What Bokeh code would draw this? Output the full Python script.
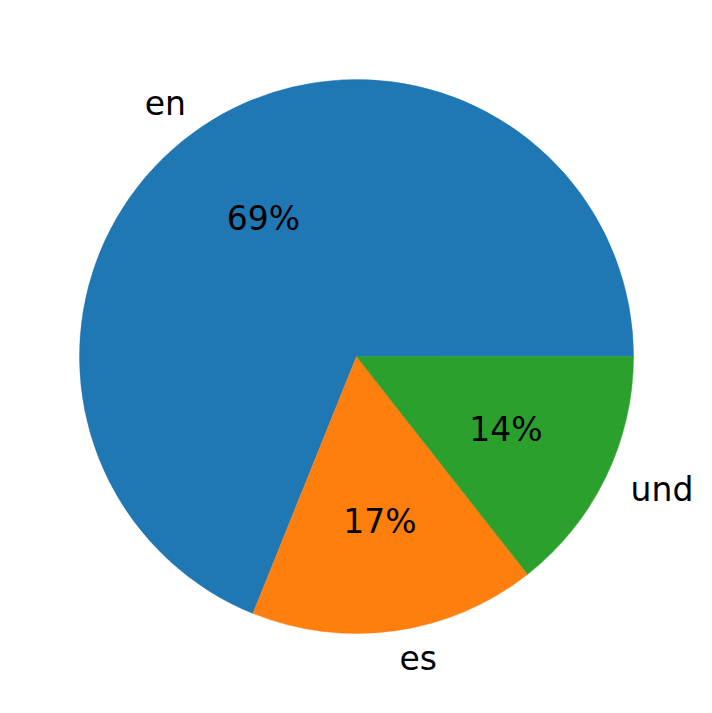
import numpy as np
from bokeh.plotting import figure
from bokeh.models import ColumnDataSource, Range1d
from bokeh.core.properties import value
from bokeh.embed import file_html
from bokeh.resources import INLINE

labels = ["en", "es", "und"]
shares = [0.689, 0.167, 0.144]
colors = ["#1f77b4", "#ff7f0e", "#2ca02c"]
pct_labels = ["69%", "17%", "14%"]

W, H = 704, 705
R = 277.0
cx, cy = 356.0, 356.0

p = figure(width=W, height=H, output_backend="svg", toolbar_location=None,
           x_range=Range1d(-cx / R, (W - cx) / R), y_range=Range1d(-(H - cy) / R, cy / R),
           min_border=0, outline_line_color=None)
p.axis.visible = False
p.grid.visible = False
p.background_fill_color = "white"
p.border_fill_color = "white"

fr = np.array(shares) / np.sum(shares)
ends = np.cumsum(fr) * 2 * np.pi
starts = np.concatenate([[0.0], ends[:-1]])
mids = (starts + ends) / 2

src = ColumnDataSource(dict(start=starts, end=ends, color=colors))
p.wedge(x=0, y=0, radius=1, start_angle="start", end_angle="end", direction="anticlock",
        fill_color="color", line_color="color", line_width=0.5, source=src)

lx = 1.1 * np.cos(mids)
ly = 1.1 * np.sin(mids)
align = ["right" if v < 0 else "left" for v in lx]
lsrc = ColumnDataSource(dict(x=lx, y=ly, t=labels, a=align))
p.text(x="x", y="y", text="t", text_align="a", text_baseline="middle",
       text_font=value("DejaVu Sans"), text_font_size="33px", text_color="black", source=lsrc)

px = 0.6 * np.cos(mids)
py = 0.6 * np.sin(mids)
psrc = ColumnDataSource(dict(x=px, y=py, t=pct_labels))
p.text(x="x", y="y", text="t", text_align="center", text_baseline="middle",
       text_font=value("DejaVu Sans"), text_font_size="33px", text_color="black", source=psrc)

open("out.html", "w").write(file_html(p, INLINE))
